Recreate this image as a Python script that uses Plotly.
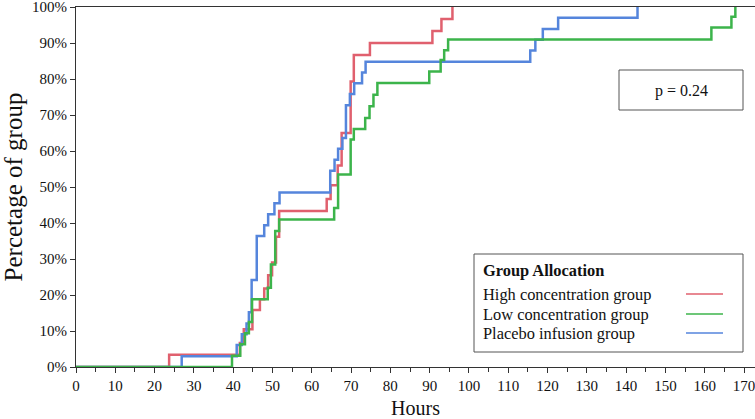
import plotly.graph_objects as go

# ---- data (hours, cumulative percentage) ----
red_t = [0, 23.7, 41.7, 42.7, 44.9, 46.8, 47.9, 48.9, 49.9, 50.9, 51.7, 63.8, 64.8, 66.6, 67.6, 69.9, 70.7, 74.8, 90.7, 93.0, 95.8]
red_p = [0, 3.4, 6.7, 10.5, 15.8, 18.8, 21.8, 25.5, 29.0, 36.2, 43.3, 46.7, 50.5, 56.0, 65.0, 79.3, 86.7, 90.0, 93.3, 96.7, 100]

green_t = [0, 39.7, 41.8, 43.0, 44.0, 44.8, 48.8, 49.6, 50.7, 51.7, 65.7, 66.7, 69.9, 70.7, 73.6, 74.7, 75.7, 76.7, 89.9, 92.8, 93.7, 94.7, 161.7, 166.8, 167.8]
green_p = [0, 3.1, 6.3, 9.4, 12.5, 18.8, 22.0, 28.5, 37.8, 41.0, 44.2, 53.5, 63.2, 66.1, 69.2, 72.4, 75.6, 78.9, 82.1, 85.3, 88.0, 91.0, 94.3, 97.3, 100]

blue_t = [0, 26.9, 40.9, 42.2, 43.4, 44.0, 44.7, 46.0, 47.9, 48.9, 50.5, 51.8, 64.7, 65.8, 66.7, 67.8, 68.7, 69.7, 70.8, 72.8, 73.7, 115.6, 116.9, 118.8, 122.7, 142.9]
blue_p = [0, 3.0, 6.1, 9.1, 12.1, 15.2, 24.2, 36.4, 39.4, 42.4, 45.5, 48.5, 54.5, 57.6, 60.6, 63.6, 72.7, 75.8, 78.8, 81.8, 84.8, 87.9, 90.9, 93.9, 97.0, 100]

groups = ["High concentration group", "Low concentration group", "Placebo infusion group"]
colors = ["#e0606e", "#3cb44b", "#5585dc"]
p_text = "p = 0.24"
x_title = "Hours"
y_title = "Percetage of group"

W, H = 755, 419
L, R, T, B = 76, 0, 7, 52
FONT = "Liberation Serif"
NB = "\u00a0"

def px(x):
    return (x - L) / (W - L - R)

def py(y):
    return (H - B - y) / (H - T - B)

fig = go.Figure()
series = [(red_t, red_p), (blue_t, blue_p), (green_t, green_p)]
order = [0, 2, 1]
for (t, p), gi in zip(series, order):
    fig.add_trace(go.Scatter(x=t, y=p, mode="lines", line_shape="hv",
                             line=dict(color=colors[gi], width=2.5),
                             name=groups[gi], showlegend=False))

shapes = []
annotations = []
# legend box
shapes.append(dict(type="rect", xref="paper", yref="paper",
                   x0=px(474), x1=px(743), y0=py(352), y1=py(254),
                   line=dict(color="#555555", width=1), fillcolor="white", layer="below"))
annotations.append(dict(text="<b>Group Allocation</b>", xref="paper", yref="paper",
                        x=px(481), y=py(270), xanchor="left", yanchor="middle",
                        showarrow=False, font=dict(family=FONT, size=16.4, color="#111")))
for i, (g, yy) in enumerate(zip(groups, [294, 314, 333])):
    annotations.append(dict(text=g, xref="paper", yref="paper",
                            x=px(481), y=py(yy), xanchor="left", yanchor="middle",
                            showarrow=False, font=dict(family=FONT, size=16.4, color="#111")))
    shapes.append(dict(type="line", xref="paper", yref="paper",
                       x0=px(686), x1=px(723), y0=py(yy), y1=py(yy),
                       line=dict(color=colors[i], width=1.5)))
# p-value box
shapes.append(dict(type="rect", xref="paper", yref="paper",
                   x0=px(619), x1=px(743), y0=py(110), y1=py(70),
                   line=dict(color="#555555", width=1), fillcolor="white", layer="below"))
annotations.append(dict(text=p_text, xref="paper", yref="paper",
                        x=px(681), y=py(91), xanchor="center", yanchor="middle",
                        showarrow=False, font=dict(family=FONT, size=16, color="#111")))

fig.update_layout(
    width=W, height=H, margin=dict(l=L, r=R, t=T, b=B),
    paper_bgcolor="white", plot_bgcolor="white",
    font=dict(family=FONT, size=15, color="#111"),
    shapes=shapes, annotations=annotations, showlegend=False,
    xaxis=dict(range=[0, 172.8], tick0=0, dtick=10, ticks="outside", ticklen=5,
               tickcolor="#333", showline=True, linecolor="#333", linewidth=1,
               mirror=True, showgrid=False, zeroline=False, automargin=False,
               ticklabeloverflow="allow",
               minor=dict(dtick=5, ticks="outside", ticklen=3.5, tickcolor="#333"),
               title=dict(text=NB * 5 + x_title, font=dict(family=FONT, size=20, color="#111"),
                          standoff=9),
               tickfont=dict(family=FONT, size=15, color="#111")),
    yaxis=dict(range=[0, 100], tick0=0, dtick=10, ticksuffix="%", ticks="outside",
               ticklen=5, tickcolor="#333", showline=True, linecolor="#333",
               linewidth=1, showgrid=False, zeroline=False, automargin=False,
               ticklabeloverflow="allow",
               title=dict(text=y_title + NB * 11, font=dict(family=FONT, size=25, color="#111"),
                          standoff=6),
               tickfont=dict(family=FONT, size=15, color="#111")),
)

fig.write_html("out.html", config={"displayModeBar": False},
               post_script="document.body.style.margin='0';document.body.style.overflow='hidden';")
